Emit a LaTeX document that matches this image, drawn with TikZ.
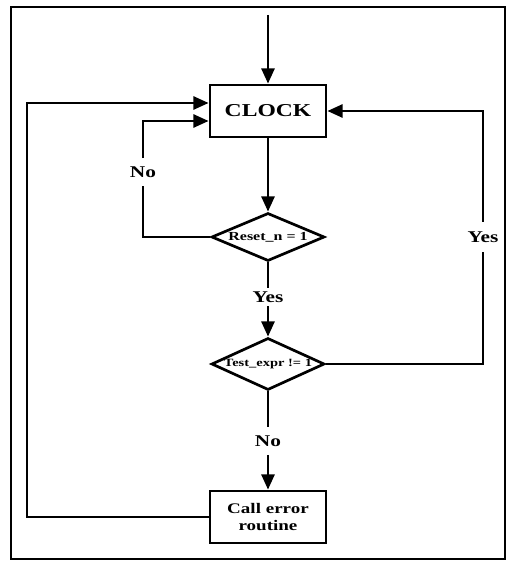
\documentclass[tikz,border=0pt]{standalone}
\usepackage{fontspec}
\setmainfont{Liberation Serif}
\newfontfamily\widefont[FakeStretch=1.3]{Liberation Serif}
\usetikzlibrary{shapes.geometric,arrows.meta,calc}

\begin{document}
\begin{tikzpicture}[x=0.03cm, y=-0.03cm,
  wire/.style={line width=2.2pt},
  arr/.style={line width=2.5pt, -{Triangle[length=13pt,width=11pt]}},
  blk/.style={draw, line width=2.3pt, minimum width=116*0.03cm, minimum height=52*0.03cm, align=center, font=\widefont\bfseries\fontsize{12.5}{14}\selectfont},
  dec/.style={draw, diamond, line width=2.3pt, inner sep=0pt, minimum width=113*0.03cm, minimum height=48*0.03cm, font=\widefont\bfseries\fontsize{10.5}{12}\selectfont},
  lbl/.style={inner sep=5pt, font=\widefont\bfseries\fontsize{14}{16}\selectfont}]
\newcommand{\Loopx}{27}; % outer loop x
\newcommand{\Retx}{483}; % right loop x

\useasboundingbox (0,0) rectangle (507,562);
\draw[line width=2.5pt] (11,7) rectangle (505,559); % frame

\coordinate (IN) at (268,15);
\coordinate (LT) at (\Loopx,103);
\coordinate (LB) at (\Loopx,517);

% blocks
\node[blk, font=\widefont\bfseries\fontsize{15.5}{17}\selectfont] (CLK) at (268,111) {CLOCK};
\node[dec] (RST) at (268,237) {\makebox[0pt]{Reset\_n = 1}};
\node[dec, minimum height=52*0.03cm, font=\widefont\bfseries\fontsize{9.5}{11}\selectfont] (TST) at (268,364) {\makebox[0pt]{Test\_expr != 1}};
\node[blk] (ERR) at (268,517) {Call error\\routine};
%

% labels
\node[lbl, inner sep=7pt] (NoL) at (143,172) {No};
\node[lbl, inner sep=3pt] (YesM) at (268,297) {Yes};
\node[lbl, inner sep=7pt] (NoM) at (268,441) {No};
\node[lbl, inner sep=8pt] (YesR) at (\Retx,237) {Yes};

% main flow
\draw[arr] (IN) -- (CLK.north);
\draw[arr] (CLK.south) -- (RST.north);
\draw[wire] (RST.south) -- (YesM.north);
\draw[arr] (YesM.south) -- (TST.north);
\draw[wire] (TST.south) -- (NoM.north);
\draw[arr] (NoM.south) -- (ERR.north);

% loops back to CLOCK
\draw[wire] (RST.west) -| (NoL.south);
\draw[arr] (NoL.north) |- ($(CLK.west)+(0,10)$);
\draw[wire] (TST.east) -| (YesR.south);
\draw[arr] (YesR.north) |- (CLK.east);
\draw[arr] (ERR.west) -- (LB) -- (LT) -- (LT -| CLK.west);
\end{tikzpicture}
\end{document}
